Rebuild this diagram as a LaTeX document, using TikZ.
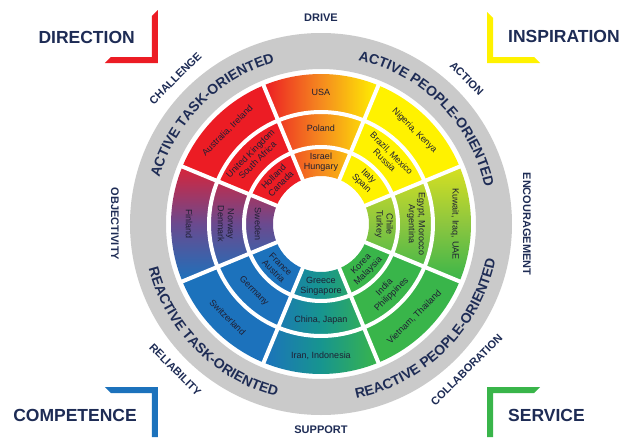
\documentclass[tikz,border=0pt]{standalone}
\usepackage{fontspec}
\setmainfont{Liberation Sans}
\usetikzlibrary{decorations.text,positioning}

\definecolor{navy}{HTML}{1E2C55}
\definecolor{ringgrey}{HTML}{CACACA}
\definecolor{inktext}{HTML}{1F1F33}
\definecolor{wred}{HTML}{EC1C24}
\definecolor{wcrimson}{HTML}{D8243A}
\definecolor{wyellow}{HTML}{FFF200}
\definecolor{wgreen}{HTML}{39B54A}
\definecolor{wblue}{HTML}{1C72BC}
\definecolor{worange}{HTML}{F58A1F}
\definecolor{wlime}{HTML}{D7E021}
\definecolor{wleaf}{HTML}{8CC63F}
\definecolor{wteal}{HTML}{17958F}
\definecolor{wpurple}{HTML}{6A4A8F}

\newcommand{\ringfont}{\bfseries\fontsize{14}{14}\selectfont}

\tikzset{
  wheelgap/.style={white, line width=4pt},
  country/.style={font=\fontsize{9}{10}\selectfont, text=inktext, align=center, inner sep=0pt},
  value/.style={font=\bfseries\fontsize{11}{11}\selectfont, text=navy, inner sep=0pt},
  corner/.style={font=\bfseries\fontsize{17.5}{17.5}\selectfont, text=navy, inner sep=0pt},
  ringtext/.style={decorate, decoration={text along path, text align=center,
      text color=navy, text={|\ringfont|#1}}}
}

\begin{document}
\begin{tikzpicture}[x=1pt, y=1pt]

\fill[white] (-321,-213) rectangle (306,224);
\useasboundingbox (-321,-213) rectangle (306,224);

% grey band
\fill[ringgrey, even odd rule] (0,0) circle (191) (0,0) circle (155);

% plain wedges
\foreach \a/\c in {45/wyellow, -45/wgreen, -135/wblue, 135/wred}
  \fill[\c] (\a-22.5:150) arc[start angle=\a-22.5, end angle=\a+22.5, radius=150]
    -- (\a+22.5:48) arc[start angle=\a+22.5, end angle=\a-22.5, radius=48] -- cycle;

% blended wedges
\shade[left color=wred, right color=wyellow, middle color=worange]
  (67.5:150) arc[start angle=67.5, end angle=112.5, radius=150]
  -- (112.5:48) arc[start angle=112.5, end angle=67.5, radius=48] -- cycle;
\shade[top color=wlime, bottom color=wgreen, middle color=wleaf]
  (-22.5:150) arc[start angle=-22.5, end angle=22.5, radius=150]
  -- (22.5:48) arc[start angle=22.5, end angle=-22.5, radius=48] -- cycle;
\shade[left color=wblue, right color=wgreen, middle color=wteal]
  (-112.5:150) arc[start angle=-112.5, end angle=-67.5, radius=150]
  -- (-67.5:48) arc[start angle=-67.5, end angle=-112.5, radius=48] -- cycle;
\shade[top color=wcrimson, bottom color=wblue, middle color=wpurple]
  (157.5:150) arc[start angle=157.5, end angle=202.5, radius=150]
  -- (202.5:48) arc[start angle=202.5, end angle=157.5, radius=48] -- cycle;

% white gaps
\foreach \a in {22.5,67.5,...,337.5}
  \draw[wheelgap] (\a:46) -- (\a:152);
\draw[wheelgap] (0,0) circle (77);
\draw[wheelgap] (0,0) circle (112);

% countries
\foreach \a/\r/\t/\txt in {
    90/132/0/USA, 45/132/-45/{Nigeria, Kenya}, 0/134/-90/{Kuwait, Iraq, UAE},
    -45/132/45/{Vietnam, Thailand}, -90/132/0/{Iran, Indonesia},
    -135/132/-45/Switzerland, 180/132/-90/Finland, 135/132/45/{Australia, Ireland},
    90/96/0/Poland, 45/95/-45/{Brazil, Mexico\\Russia}, 0/95/-90/{Egypt, Morocco\\Argentina},
    -45/95/45/{India\\Philippines}, -90/96/0/{China, Japan}, -135/95/-45/Germany,
    180/95/-90/{Norway\\Denmark}, 135/95/45/{United Kingdom\\South Africa},
    90/62/0/{Israel\\Hungary}, 45/62/-45/{Italy\\Spain}, 0/63/-90/{Chile\\Turkey},
    -45/62/45/{Korea\\Malaysia}, -90/62/0/{Greece\\Singapore}, -135/62/-45/{France\\Austria},
    180/63/-90/Sweden, 135/62/45/{Holland\\Canada}}
  \node[country, rotate=\t] (c\a-\r) at (\a:\r) {\txt};

% band titles
\path[ringtext={ACTIVE TASK-ORIENTED}] (180:168) arc[start angle=180, end angle=90, radius=168];
\path[ringtext={ACTIVE PEOPLE-ORIENTED}] (90:168) arc[start angle=90, end angle=0, radius=168];
\path[ringtext={REACTIVE TASK-ORIENTED}] (180:178) arc[start angle=180, end angle=270, radius=178];
\path[ringtext={REACTIVE PEOPLE-ORIENTED}] (270:178) arc[start angle=270, end angle=360, radius=178];

% values round the band
\foreach \a/\t/\txt in {90/0/DRIVE, 45/-45/ACTION, 0/-90/ENCOURAGEMENT,
    -45/45/COLLABORATION, -90/0/SUPPORT, -135/-45/RELIABILITY,
    180/-90/OBJECTIVITY, 135/45/CHALLENGE}
  \node[value, rotate=\t] (v\txt) at (\a:206) {\txt};

% corners
\fill[wred] (-163,214) -- (-163,161) -- (-216,161) -- (-210,167) -- (-169,167) -- (-169,208) -- cycle;
\fill[wyellow] (166,212) -- (172,206) -- (172,167) -- (213,167) -- (219,161) -- (166,161) -- cycle;
\fill[wblue] (-216,-163) -- (-163,-163) -- (-163,-213) -- (-169,-213) -- (-169,-169) -- (-210,-169) -- cycle;
\fill[wgreen] (166,-163) -- (219,-163) -- (213,-169) -- (172,-169) -- (172,-213) -- (166,-213) -- cycle;

\node[corner, anchor=east] (direction) at (-186,187) {DIRECTION};
\node[corner, anchor=west] (inspiration) at (187,188) {INSPIRATION};
\node[corner, anchor=east] (competence) at (-184,-191) {COMPETENCE};
\node[corner, anchor=west] (service) at (187,-191) {SERVICE};

\end{tikzpicture}
\end{document}
